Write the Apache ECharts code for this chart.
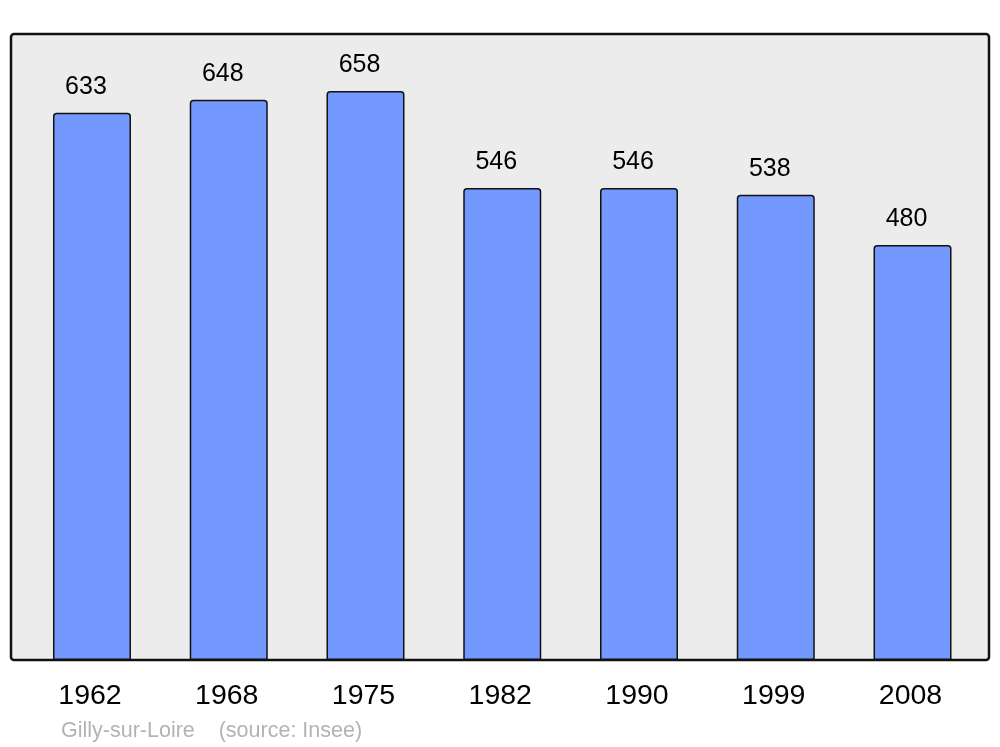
<!DOCTYPE html>
<html>
<head>
<meta charset="utf-8">
<script src="https://cdn.jsdelivr.net/npm/echarts@6/dist/echarts.min.js"></script>
<style>
html,body{margin:0;padding:0;background:#fff;}
#chart{width:1000px;height:747px;}
</style>
</head>
<body>
<div id="chart"></div>
<script>
const years = ['1962', '1968', '1975', '1982', '1990', '1999', '2008'];
const population = [633, 648, 658, 546, 546, 538, 480];
const footerText = 'Gilly-sur-Loire    (source: Insee)';

const chart = echarts.init(document.getElementById('chart'), null, {renderer: 'canvas'});
chart.setOption({
  animation: false,
  backgroundColor: '#ffffff',
  textStyle: {fontFamily: 'Liberation Sans, Arial, sans-serif'},
  graphic: [
    {
      type: 'rect',
      z: -10,
      shape: {x: 11, y: 34, width: 978, height: 626, r: 3},
      style: {fill: '#ececec', stroke: '#111111', lineWidth: 2.5}
    },
    {
      type: 'text',
      left: 61,
      top: 720,
      style: {text: footerText, fill: '#b3b3b3', font: '21.5px "Liberation Sans", Arial, sans-serif'}
    }
  ],
  grid: {left: 23.6, right: 19.1, top: 34, bottom: 87, containLabel: false},
  xAxis: {
    type: 'category',
    data: years,
    axisLine: {show: false},
    axisTick: {show: false},
    axisLabel: {
      color: '#000',
      fontSize: 28.5,
      margin: 22,
      padding: [0, 4, 0, 0],
      fontFamily: 'Liberation Sans, Arial, sans-serif'
    }
  },
  yAxis: {
    type: 'value',
    min: 0,
    max: 724,
    show: false,
    splitLine: {show: false}
  },
  series: [{
    type: 'bar',
    data: population,
    barWidth: 78,
    itemStyle: {
      color: '#7399ff',
      borderColor: '#111111',
      borderWidth: 1.5,
      borderRadius: [3, 3, 0, 0]
    },
    label: {
      show: true,
      position: 'top',
      distance: 13,
      offset: [-6, 0],
      color: '#000',
      fontSize: 25,
      fontFamily: 'Liberation Sans, Arial, sans-serif'
    }
  }]
});
</script>
</body>
</html>
